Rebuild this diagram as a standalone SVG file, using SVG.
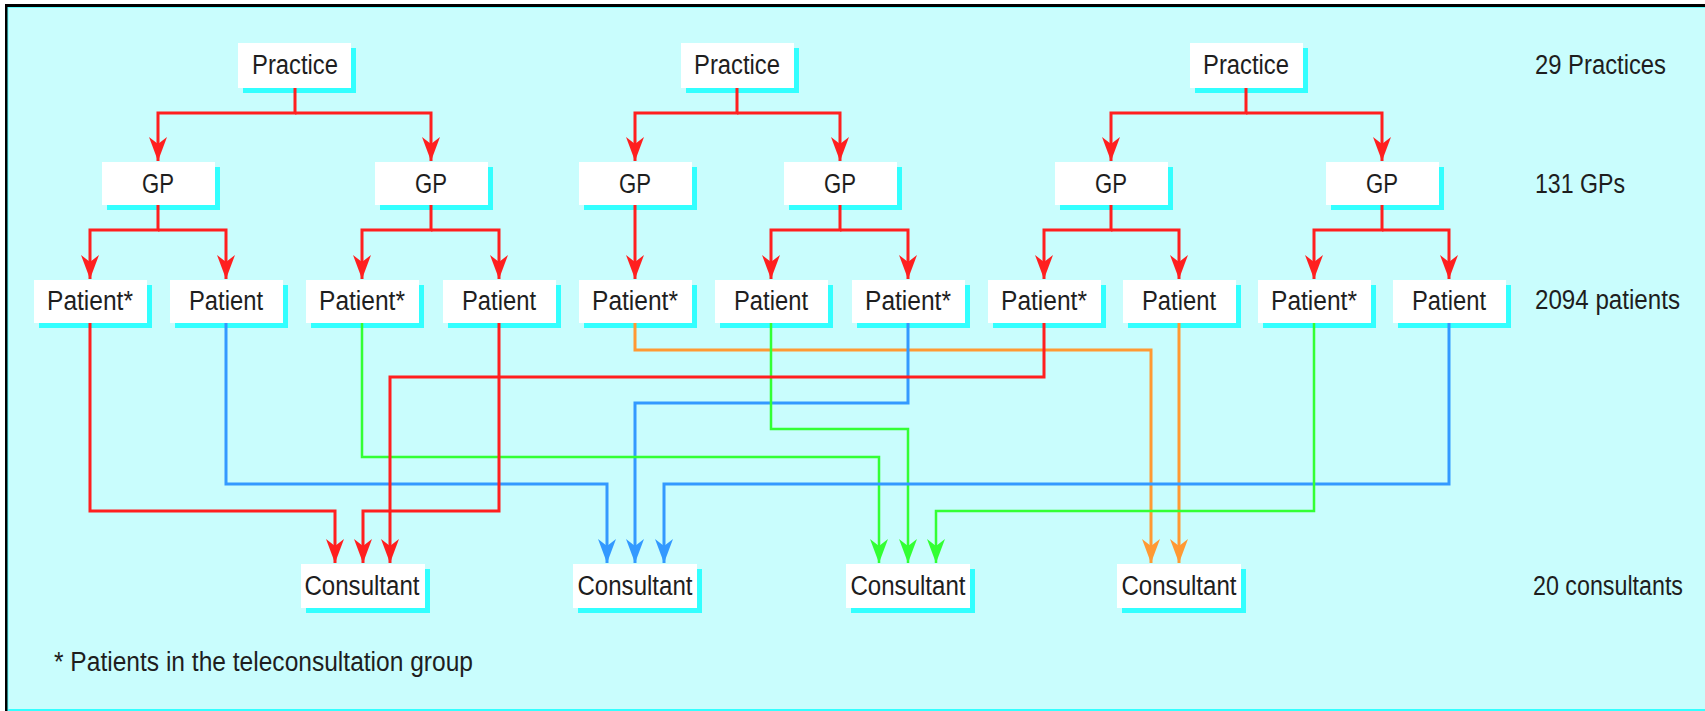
<svg xmlns="http://www.w3.org/2000/svg" width="1705" height="711" viewBox="0 0 1705 711">
<style>
.box{fill:#ffffff}
.sh{fill:#33ffff}
.t{font-family:"Liberation Sans",Arial,sans-serif;font-size:27px;fill:#1e1e1e;text-anchor:middle}
.lbl{font-family:"Liberation Sans",Arial,sans-serif;font-size:27px;fill:#1e1e1e}
.c{fill:none;stroke-width:3;stroke-linejoin:miter}
.red{stroke:#ff1f1f;marker-end:url(#ar)}
.blue{stroke:#3399ff;marker-end:url(#ab)}
.green{stroke:#33ff33;stroke-width:2.5;marker-end:url(#ag)}
.orange{stroke:#ff9933;marker-end:url(#ao)}
</style>
<defs>
<marker id="ar" markerUnits="userSpaceOnUse" viewBox="0 0 24 18" refX="24" refY="9" markerWidth="24" markerHeight="18" orient="auto"><path d="M0,0 L24,9 L0,18 L7,9 Z" fill="#ff1f1f"/></marker>
<marker id="ab" markerUnits="userSpaceOnUse" viewBox="0 0 24 18" refX="24" refY="9" markerWidth="24" markerHeight="18" orient="auto"><path d="M0,0 L24,9 L0,18 L7,9 Z" fill="#3399ff"/></marker>
<marker id="ag" markerUnits="userSpaceOnUse" viewBox="0 0 24 18" refX="24" refY="9" markerWidth="24" markerHeight="18" orient="auto"><path d="M0,0 L24,9 L0,18 L7,9 Z" fill="#33ff33"/></marker>
<marker id="ao" markerUnits="userSpaceOnUse" viewBox="0 0 24 18" refX="24" refY="9" markerWidth="24" markerHeight="18" orient="auto"><path d="M0,0 L24,9 L0,18 L7,9 Z" fill="#ff9933"/></marker>
</defs>
<rect x="0" y="0" width="1705" height="711" fill="#ffffff"/>
<rect x="5" y="4" width="1700" height="707" fill="#000000"/>
<rect x="7.5" y="7" width="1697.5" height="704" fill="#66ffff"/>
<rect x="8.5" y="8" width="1696.5" height="701" fill="#c9fdfd"/>
<rect x="8.5" y="709" width="1696.5" height="2" fill="#33ffff"/>

<g id="practice1"><rect class="sh" x="243" y="48" width="113" height="45"/><rect class="box" x="238" y="43" width="113" height="45"/><text class="t" x="295" y="74" textLength="86" lengthAdjust="spacingAndGlyphs">Practice</text></g>
<g id="practice2"><rect class="sh" x="686" y="48" width="113" height="45"/><rect class="box" x="681" y="43" width="113" height="45"/><text class="t" x="737" y="74" textLength="86" lengthAdjust="spacingAndGlyphs">Practice</text></g>
<g id="practice3"><rect class="sh" x="1195" y="48" width="113" height="45"/><rect class="box" x="1190" y="43" width="113" height="45"/><text class="t" x="1246" y="74" textLength="86" lengthAdjust="spacingAndGlyphs">Practice</text></g>

<g id="gp1"><rect class="sh" x="107" y="167" width="113" height="43"/><rect class="box" x="102" y="162" width="113" height="43"/><text class="t" x="158" y="193" textLength="32" lengthAdjust="spacingAndGlyphs">GP</text></g>
<g id="gp2"><rect class="sh" x="380" y="167" width="113" height="43"/><rect class="box" x="375" y="162" width="113" height="43"/><text class="t" x="431" y="193" textLength="32" lengthAdjust="spacingAndGlyphs">GP</text></g>
<g id="gp3"><rect class="sh" x="584" y="167" width="113" height="43"/><rect class="box" x="579" y="162" width="113" height="43"/><text class="t" x="635" y="193" textLength="32" lengthAdjust="spacingAndGlyphs">GP</text></g>
<g id="gp4"><rect class="sh" x="789" y="167" width="113" height="43"/><rect class="box" x="784" y="162" width="113" height="43"/><text class="t" x="840" y="193" textLength="32" lengthAdjust="spacingAndGlyphs">GP</text></g>
<g id="gp5"><rect class="sh" x="1060" y="167" width="113" height="43"/><rect class="box" x="1055" y="162" width="113" height="43"/><text class="t" x="1111" y="193" textLength="32" lengthAdjust="spacingAndGlyphs">GP</text></g>
<g id="gp6"><rect class="sh" x="1331" y="167" width="113" height="43"/><rect class="box" x="1326" y="162" width="113" height="43"/><text class="t" x="1382" y="193" textLength="32" lengthAdjust="spacingAndGlyphs">GP</text></g>

<g id="patient1"><rect class="sh" x="39" y="285" width="113" height="43"/><rect class="box" x="34" y="280" width="113" height="43"/><text class="t" x="90" y="310" textLength="86" lengthAdjust="spacingAndGlyphs">Patient*</text></g>
<g id="patient2"><rect class="sh" x="175" y="285" width="113" height="43"/><rect class="box" x="170" y="280" width="113" height="43"/><text class="t" x="226" y="310" textLength="74" lengthAdjust="spacingAndGlyphs">Patient</text></g>
<g id="patient3"><rect class="sh" x="311" y="285" width="113" height="43"/><rect class="box" x="306" y="280" width="113" height="43"/><text class="t" x="362" y="310" textLength="86" lengthAdjust="spacingAndGlyphs">Patient*</text></g>
<g id="patient4"><rect class="sh" x="448" y="285" width="113" height="43"/><rect class="box" x="443" y="280" width="113" height="43"/><text class="t" x="499" y="310" textLength="74" lengthAdjust="spacingAndGlyphs">Patient</text></g>
<g id="patient5"><rect class="sh" x="584" y="285" width="113" height="43"/><rect class="box" x="579" y="280" width="113" height="43"/><text class="t" x="635" y="310" textLength="86" lengthAdjust="spacingAndGlyphs">Patient*</text></g>
<g id="patient6"><rect class="sh" x="720" y="285" width="113" height="43"/><rect class="box" x="715" y="280" width="113" height="43"/><text class="t" x="771" y="310" textLength="74" lengthAdjust="spacingAndGlyphs">Patient</text></g>
<g id="patient7"><rect class="sh" x="857" y="285" width="113" height="43"/><rect class="box" x="852" y="280" width="113" height="43"/><text class="t" x="908" y="310" textLength="86" lengthAdjust="spacingAndGlyphs">Patient*</text></g>
<g id="patient8"><rect class="sh" x="993" y="285" width="113" height="43"/><rect class="box" x="988" y="280" width="113" height="43"/><text class="t" x="1044" y="310" textLength="86" lengthAdjust="spacingAndGlyphs">Patient*</text></g>
<g id="patient9"><rect class="sh" x="1128" y="285" width="113" height="43"/><rect class="box" x="1123" y="280" width="113" height="43"/><text class="t" x="1179" y="310" textLength="74" lengthAdjust="spacingAndGlyphs">Patient</text></g>
<g id="patient10"><rect class="sh" x="1263" y="285" width="113" height="43"/><rect class="box" x="1258" y="280" width="113" height="43"/><text class="t" x="1314" y="310" textLength="86" lengthAdjust="spacingAndGlyphs">Patient*</text></g>
<g id="patient11"><rect class="sh" x="1398" y="285" width="113" height="43"/><rect class="box" x="1393" y="280" width="113" height="43"/><text class="t" x="1449" y="310" textLength="74" lengthAdjust="spacingAndGlyphs">Patient</text></g>

<g id="consultant1"><rect class="sh" x="306" y="569" width="124" height="44"/><rect class="box" x="301" y="564" width="124" height="44"/><text class="t" x="362" y="595" textLength="115" lengthAdjust="spacingAndGlyphs">Consultant</text></g>
<g id="consultant2"><rect class="sh" x="578" y="569" width="124" height="44"/><rect class="box" x="573" y="564" width="124" height="44"/><text class="t" x="635" y="595" textLength="115" lengthAdjust="spacingAndGlyphs">Consultant</text></g>
<g id="consultant3"><rect class="sh" x="851" y="569" width="124" height="44"/><rect class="box" x="846" y="564" width="124" height="44"/><text class="t" x="908" y="595" textLength="115" lengthAdjust="spacingAndGlyphs">Consultant</text></g>
<g id="consultant4"><rect class="sh" x="1122" y="569" width="124" height="44"/><rect class="box" x="1117" y="564" width="124" height="44"/><text class="t" x="1179" y="595" textLength="115" lengthAdjust="spacingAndGlyphs">Consultant</text></g>

<g id="connectors">
<path class="c red" d="M295,88 V113 H158 V161"/>
<path class="c red" d="M295,113 H431 V161"/>
<path class="c red" d="M737,88 V113 H635 V161"/>
<path class="c red" d="M737,113 H840 V161"/>
<path class="c red" d="M1246,88 V113 H1111 V161"/>
<path class="c red" d="M1246,113 H1382 V161"/>
<path class="c red" d="M158,205 V230 H90 V279"/>
<path class="c red" d="M158,230 H226 V279"/>
<path class="c red" d="M431,205 V230 H362 V279"/>
<path class="c red" d="M431,230 H499 V279"/>
<path class="c red" d="M635,205 V279"/>
<path class="c red" d="M840,205 V230 H771 V279"/>
<path class="c red" d="M840,230 H908 V279"/>
<path class="c red" d="M1111,205 V230 H1044 V279"/>
<path class="c red" d="M1111,230 H1179 V279"/>
<path class="c red" d="M1382,205 V230 H1314 V279"/>
<path class="c red" d="M1382,230 H1449 V279"/>

<path class="c orange" d="M635,323 V350 H1151 V563"/>
<path class="c orange" d="M1179,323 V563"/>
<path class="c blue" d="M908,323 V403 H635 V563"/>
<path class="c green" d="M771,323 V429 H908 V563"/>
<path class="c green" d="M362,323 V457 H879 V563"/>
<path class="c blue" d="M226,323 V484 H607 V563"/>
<path class="c blue" d="M1449,323 V484 H664 V563"/>
<path class="c green" d="M1314,323 V511 H936 V563"/>
<path class="c red" d="M1044,323 V377 H390 V563"/>
<path class="c red" d="M90,323 V511 H335 V563"/>
<path class="c red" d="M499,323 V511 H363 V563"/>
</g>

<g id="labels">
<text class="lbl" x="1535" y="74" textLength="131" lengthAdjust="spacingAndGlyphs">29 Practices</text>
<text class="lbl" x="1535" y="193" textLength="90" lengthAdjust="spacingAndGlyphs">131 GPs</text>
<text class="lbl" x="1535" y="309" textLength="145" lengthAdjust="spacingAndGlyphs">2094 patients</text>
<text class="lbl" x="1533" y="595" font-size="24" textLength="150" lengthAdjust="spacingAndGlyphs">20 consultants</text>
<text class="lbl" x="54" y="671" textLength="419" lengthAdjust="spacingAndGlyphs">* Patients in the teleconsultation group</text>
</g>
</svg>
